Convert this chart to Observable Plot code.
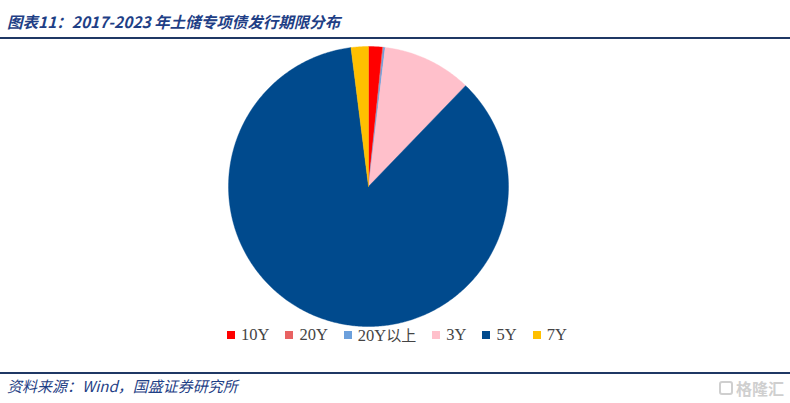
<!DOCTYPE html>
<html>
<head>
<meta charset="utf-8">
<script src="https://cdn.jsdelivr.net/npm/d3@7"></script>
<script src="https://cdn.jsdelivr.net/npm/@observablehq/plot@0.6"></script>
<style>
  html, body { margin: 0; padding: 0; background: #fff; }
  body { width: 790px; height: 403px; position: relative; overflow: hidden; font-family: "Noto Sans CJK SC", sans-serif; }
  #title { position: absolute; left: 7px; top: 10px; font-size: 15.5px; font-weight: bold; font-style: italic; color: #1F3F86; white-space: nowrap; }
  #rule1 { position: absolute; left: 0; top: 37px; width: 790px; height: 1.5px; background: #1F3864; }
  #chart { position: absolute; left: 0; top: 36px; }
  #legend { position: absolute; top: 324px; left: 227px; display: flex; gap: 16px; font-family: "Liberation Serif", serif; font-size: 16.5px; color: #444; white-space: nowrap; }
  #legend .item { display: flex; align-items: center; }
  #legend .sw { width: 8px; height: 8px; margin-right: 6px; }
  #legend .cjk { font-family: "Noto Sans CJK SC", sans-serif; font-size: 15px; }
  #rule2 { position: absolute; left: 0; top: 372px; width: 790px; height: 1.5px; background: #1F3864; }
  #source { position: absolute; left: 7px; top: 375px; font-size: 15px; font-style: italic; color: #1F3F86; white-space: nowrap; }
  #wm { position: absolute; right: 6px; top: 376px; font-size: 16px; color: #cfcfcf; font-weight: bold; display: flex; align-items: center; gap: 3px; }
  #wm .box { width: 14px; height: 14px; border: 2px solid #cfcfcf; border-radius: 3px; box-sizing: border-box; }
</style>
</head>
<body>
<div id="title">图表11：2017-2023 年土储专项债发行期限分布</div>
<div id="rule1"></div>
<div id="chart"></div>
<div id="legend"></div>
<div id="rule2"></div>
<div id="source">资料来源：Wind，国盛证券研究所</div>
<div id="wm"><span class="box"></span>格隆汇</div>
<script>
const categories = ["10Y", "20Y", "20Y以上", "3Y", "5Y", "7Y"];
const shares = [1.6, 0.1, 0.2, 10.3, 85.8, 2.0];
const colors = ["#FF0000", "#E86262", "#6CA0DC", "#FFC0CB", "#004A8D", "#FFC000"];

const arcs = d3.pie().sort(null).value(d => d)(shares);
const pts = [];
arcs.forEach((a, i) => {
  const label = categories[i];
  pts.push({label, x: 0, y: 0});
  const n = Math.max(2, Math.ceil((a.endAngle - a.startAngle) / 0.01));
  for (let k = 0; k <= n; k++) {
    const t = a.startAngle + (a.endAngle - a.startAngle) * k / n;
    pts.push({label, x: Math.sin(t), y: Math.cos(t)});
  }
  pts.push({label, x: 0, y: 0});
});

const chart = Plot.plot({
  width: 790,
  height: 300,
  marginLeft: 228,
  marginRight: 282,
  marginTop: 10,
  marginBottom: 10,
  x: {domain: [-1, 1], axis: null},
  y: {domain: [-1, 1], axis: null},
  color: {domain: categories, range: colors},
  marks: [
    Plot.line(pts, {x: "x", y: "y", z: "label", fill: "label", stroke: "label", strokeWidth: 0.4, curve: "linear"})
  ]
});
document.getElementById("chart").appendChild(chart);

const legend = document.getElementById("legend");
categories.forEach((c, i) => {
  const item = document.createElement("div");
  item.className = "item";
  const sw = document.createElement("span");
  sw.className = "sw";
  sw.style.background = colors[i];
  item.appendChild(sw);
  const tx = document.createElement("span");
  if (c.includes("以上")) {
    tx.innerHTML = "20Y<span class='cjk'>以上</span>";
  } else {
    tx.textContent = c;
  }
  item.appendChild(tx);
  legend.appendChild(item);
});
</script>
</body>
</html>
